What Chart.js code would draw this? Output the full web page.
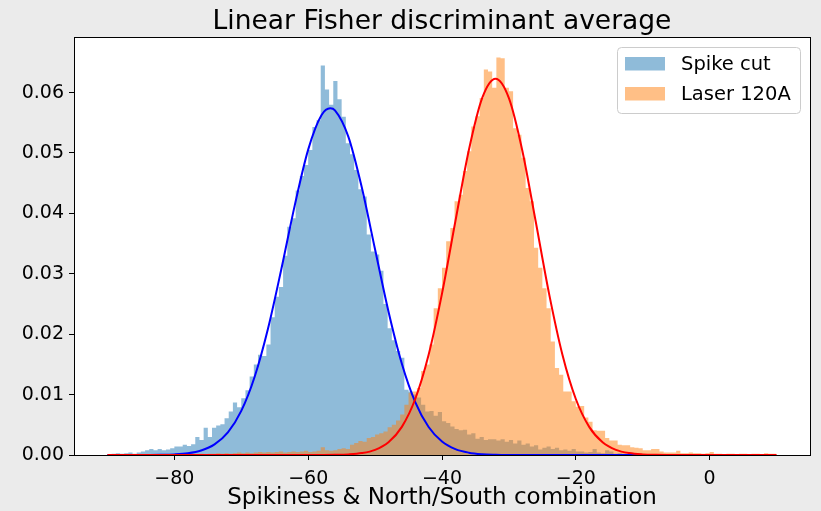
<!DOCTYPE html>
<html>
<head>
<meta charset="utf-8">
<script src="https://cdn.jsdelivr.net/npm/chart.js@4.4.1/dist/chart.umd.min.js"></script>
<style>
  body { margin: 0; background: #ebebeb; }
  canvas { display: block; }
</style>
</head>
<body>
<canvas id="myChart" width="821" height="511"></canvas>
<script>
// histogram bins: 160 bins from -90 to 10
const binStart = -90;
const binWidth = 0.625;

const spikeCut = [
  0.0001, 0.0002, 0.0003, 0.0002, 0.0003, 0.0004, 0.0002, 0.0004, 0.0006, 0.0008,
  0.0010, 0.0008, 0.0010, 0.0008, 0.0009, 0.0011, 0.0014, 0.0014, 0.0017, 0.0015,
  0.0018, 0.0030, 0.0025, 0.0045, 0.0030, 0.0045, 0.0049, 0.0051, 0.0061, 0.0072,
  0.0087, 0.0079, 0.0094, 0.0107, 0.0130, 0.0150, 0.0166, 0.0164, 0.0183, 0.0228,
  0.0262, 0.0278, 0.0330, 0.0378, 0.0392, 0.0438, 0.0462, 0.0480, 0.0505, 0.0543,
  0.0554, 0.0645, 0.0605, 0.0580, 0.0619, 0.0589, 0.0560, 0.0516, 0.0498, 0.0472,
  0.0440, 0.0428, 0.0365, 0.0337, 0.0332, 0.0305, 0.0250, 0.0210, 0.0190, 0.0172,
  0.0161, 0.0108, 0.0105, 0.0100, 0.0095, 0.0083, 0.0072, 0.0073, 0.0065, 0.0071,
  0.0056, 0.0053, 0.0047, 0.0043, 0.0041, 0.0042, 0.0034, 0.0036, 0.0027, 0.0030,
  0.0025, 0.0026, 0.0026, 0.0024, 0.0026, 0.0022, 0.0025, 0.0019, 0.0024, 0.0017,
  0.0019, 0.0014, 0.0016, 0.0009, 0.0012, 0.0014, 0.0010, 0.0012, 0.0008, 0.0009,
  0.0007, 0.0010, 0.0006, 0.0006, 0.0004, 0.0005, 0.0010, 0.0004, 0.0003, 0.0008,
  0.0006, 0.0002, 0.0003, 0.0002, 0.0001, 0.0002, 0.0001, 0.0001, 0, 0.0001,
  0, 0, 0, 0, 0, 0, 0, 0, 0, 0,
  0, 0, 0, 0, 0, 0, 0, 0, 0, 0,
  0, 0, 0, 0, 0, 0, 0, 0, 0, 0
];

const laser120A = [
  0, 0, 0, 0, 0, 0, 0, 0, 0, 0,
  0.0001, 0, 0.0001, 0, 0.0001, 0.0001, 0, 0.0001, 0.0001, 0.0001,
  0.0002, 0.0001, 0.0002, 0.0001, 0.0002, 0.0002, 0.0003, 0.0002, 0.0003, 0.0002,
  0.0003, 0.0004, 0.0003, 0.0004, 0.0003, 0.0004, 0.0005, 0.0004, 0.0005, 0.0004,
  0.0005, 0.0006, 0.0004, 0.0005, 0.0006, 0.0005, 0.0006, 0.0007, 0.0005, 0.0006,
  0.0007, 0.0013, 0.0008, 0.0007, 0.0008, 0.0010, 0.0011, 0.0010, 0.0017, 0.0020,
  0.0023, 0.0022, 0.0028, 0.0030, 0.0034, 0.0036, 0.0039, 0.0046, 0.0050, 0.0057,
  0.0067, 0.0083, 0.0103, 0.0105, 0.0111, 0.0139, 0.0150, 0.0183, 0.0243, 0.0276,
  0.0310, 0.0354, 0.0376, 0.0420, 0.0431, 0.0470, 0.0503, 0.0544, 0.0561, 0.0591,
  0.0638, 0.0635, 0.0608, 0.0658, 0.0657, 0.0608, 0.0602, 0.0541, 0.0530, 0.0492,
  0.0442, 0.0420, 0.0343, 0.0310, 0.0276, 0.0243, 0.0188, 0.0144, 0.0133, 0.0105,
  0.0105, 0.0089, 0.0080, 0.0081, 0.0062, 0.0055, 0.0041, 0.0040, 0.0040, 0.0028,
  0.0024, 0.0024, 0.0017, 0.0016, 0.0016, 0.0013, 0.0012, 0.0011, 0.0008, 0.0008,
  0.0010, 0.0010, 0.0006, 0.0004, 0.0004, 0.0004, 0.0007, 0.0003, 0.0003, 0.0004,
  0.0003, 0.0003, 0.0002, 0.0003, 0.0005, 0.0002, 0.0002, 0.0001, 0.0002, 0.0002,
  0.0001, 0.0002, 0.0002, 0.0001, 0.0002, 0.0002, 0.0001, 0.0003, 0.0002, 0.0002
];

// fitted curves
const blueFitX = [-90, -88, -86, -84, -82, -80, -78, -76, -74, -72, -70, -68, -66, -64, -62, -60, -58,
  -56.7, -56, -54, -52, -50, -48, -46, -44, -42, -40, -38, -36, -34, -32, -30, -28,
  -26, -24, -22, -20, -18, -16, -14, -12, -10, -8, -6, -4, -2, 0, 2, 4, 6, 8, 10];
const blueFitY = [0, 0, 0.000003, 0.00001, 0.000033, 0.000103, 0.00029, 0.00075, 0.00176, 0.00375, 0.0073, 0.01296, 0.02095, 0.03084, 0.04137, 0.05056, 0.05628,
  0.0574, 0.05707, 0.05272, 0.04437, 0.03402, 0.02376, 0.01511, 0.00876, 0.00463, 0.00222, 0.00097, 0.00039, 0.00014, 0.00005, 0.00001, 0,
  0, 0, 0, 0, 0, 0, 0, 0, 0, 0, 0, 0, 0, 0, 0, 0, 0, 0];

const redFitX = [-90, -88, -86, -84, -82, -80, -78, -76, -74, -72, -70, -68, -66, -64, -62,
  -60, -58, -56, -54, -52, -50, -48, -46, -44, -42, -40, -38, -36, -34, -32, -30, -28, -26,
  -24, -22, -20, -18, -16, -14, -12, -10, -8, -6, -4, -2, 0, 2, 4, 6, 8, 10];
const redFitY = [0, 0, 0, 0, 0, 0, 0, 0, 0, 0, 0, 0, 0, 0, 0,
  0.000002, 0.000008, 0.00003, 0.000103, 0.000314, 0.000857, 0.00211, 0.00466, 0.00927, 0.0166, 0.02672, 0.03869, 0.05042, 0.05909, 0.0623, 0.05909, 0.05042, 0.03869,
  0.02672, 0.0166, 0.00927, 0.00466, 0.00211, 0.000857, 0.000314, 0.000103, 0.00003, 0.000008, 0.000002, 0, 0, 0, 0, 0, 0, 0];

const xTickValues = [-80, -60, -40, -20, 0];
const yTickValues = [0, 0.01, 0.02, 0.03, 0.04, 0.05, 0.06];

const legendLabels = ['Spike cut', 'Laser 120A'];
const blueFill = 'rgba(31, 119, 180, 0.5)';
const orangeFill = 'rgba(255, 127, 14, 0.5)';

function toSteps(values) {
    const pts = values.map((v, i) => ({ x: binStart + i * binWidth, y: v }));
    pts.push({ x: binStart + values.length * binWidth, y: values[values.length - 1] });
    return pts;
}

function zip(xs, ys) {
    return xs.map((x, i) => ({ x, y: ys[i] }));
}

// white axes background, spines and legend like matplotlib
const framePlugin = {
    id: 'frame',
    beforeDraw(chart) {
        const { ctx, chartArea: a } = chart;
        ctx.save();
        ctx.fillStyle = '#ebebeb';
        ctx.fillRect(0, 0, chart.width, chart.height);
        ctx.fillStyle = '#ffffff';
        ctx.fillRect(a.left, a.top, a.right - a.left, a.bottom - a.top);
        ctx.restore();
    },
    afterDraw(chart) {
        const { ctx, chartArea: a } = chart;
        ctx.save();
        ctx.strokeStyle = '#000';
        ctx.lineWidth = 1;
        ctx.strokeRect(Math.round(a.left) + 0.5, Math.round(a.top) + 0.5,
            Math.round(a.right - a.left), Math.round(a.bottom - a.top));

        // legend
        const bx = 617.5, by = 47.5, bw = 183, bh = 66;
        ctx.beginPath();
        ctx.roundRect(bx, by, bw, bh, 4);
        ctx.fillStyle = 'rgba(255,255,255,0.8)';
        ctx.fill();
        ctx.strokeStyle = '#cccccc';
        ctx.stroke();
        const fills = [blueFill, orangeFill];
        ctx.font = '19.5px "DejaVu Sans"';
        ctx.textBaseline = 'middle';
        legendLabels.forEach((label, i) => {
            const cy = 64 + i * 30;
            ctx.fillStyle = fills[i];
            ctx.fillRect(625, cy - 7, 40, 13.5);
            ctx.fillStyle = '#000';
            ctx.fillText(label, 681, cy + 1);
        });
        ctx.restore();
    }
};

const ctx = document.getElementById('myChart').getContext('2d');
Chart.defaults.font.family = '"DejaVu Sans", sans-serif';
Chart.defaults.color = '#000';

const axisGrid = {
    display: true,
    drawOnChartArea: false,
    drawTicks: true,
    tickLength: 5,
    tickColor: '#000',
    tickWidth: 1
};

new Chart(ctx, {
    type: 'line',
    data: {
        datasets: [
            {
                label: legendLabels[0],
                data: toSteps(spikeCut),
                stepped: 'before',
                fill: 'origin',
                backgroundColor: blueFill,
                borderColor: 'rgba(0,0,0,0)',
                borderWidth: 0,
                pointRadius: 0,
                order: 3
            },
            {
                label: legendLabels[1],
                data: toSteps(laser120A),
                stepped: 'before',
                fill: 'origin',
                backgroundColor: orangeFill,
                borderColor: 'rgba(0,0,0,0)',
                borderWidth: 0,
                pointRadius: 0,
                order: 2
            },
            {
                label: 'fit spike cut',
                data: zip(blueFitX, blueFitY),
                borderColor: '#0000ff',
                borderWidth: 2,
                pointRadius: 0,
                fill: false,
                cubicInterpolationMode: 'monotone',
                clip: false,
                order: 1
            },
            {
                label: 'fit laser',
                data: zip(redFitX, redFitY),
                borderColor: '#ff0000',
                borderWidth: 2,
                pointRadius: 0,
                fill: false,
                cubicInterpolationMode: 'monotone',
                clip: false,
                order: 0
            }
        ]
    },
    options: {
        responsive: false,
        animation: false,
        devicePixelRatio: 1,
        layout: { padding: { left: 0, right: 11, top: 0, bottom: 0 } },
        plugins: {
            legend: { display: false },
            tooltip: { enabled: false },
            title: {
                display: true,
                fullSize: false, // centre over the axes, as matplotlib does
                text: 'Linear Fisher discriminant average',
                color: '#000',
                font: { size: 26.5, weight: 'normal' },
                padding: { top: 6, bottom: -0.8 }
            }
        },
        scales: {
            x: {
                type: 'linear',
                min: -95,
                max: 15,
                z: 1,
                afterBuildTicks: (s) => { s.ticks = xTickValues.map(v => ({ value: v })); },
                afterFit: (s) => { s.height = 56; },
                ticks: {
                    callback: (v) => (v < 0 ? '\u2212' + Math.abs(v) : String(v)),
                    font: { size: 19 },
                    color: '#000',
                    padding: 8,
                    maxRotation: 0,
                    autoSkip: false
                },
                grid: axisGrid,
                border: { display: false },
                title: {
                    display: true,
                    text: 'Spikiness & North/South combination',
                    color: '#000',
                    font: { size: 23 },
                    padding: { top: 0, bottom: -1 }
                }
            },
            y: {
                type: 'linear',
                min: 0,
                max: 0.0692,
                afterBuildTicks: (s) => { s.ticks = yTickValues.map(v => ({ value: v })); },
                afterFit: (s) => { s.width = 74; },
                ticks: {
                    callback: (v) => v.toFixed(2),
                    font: { size: 19 },
                    color: '#000',
                    padding: 5
                },
                grid: axisGrid,
                border: { display: false }
            }
        }
    },
    plugins: [framePlugin]
});
</script>
</body>
</html>
